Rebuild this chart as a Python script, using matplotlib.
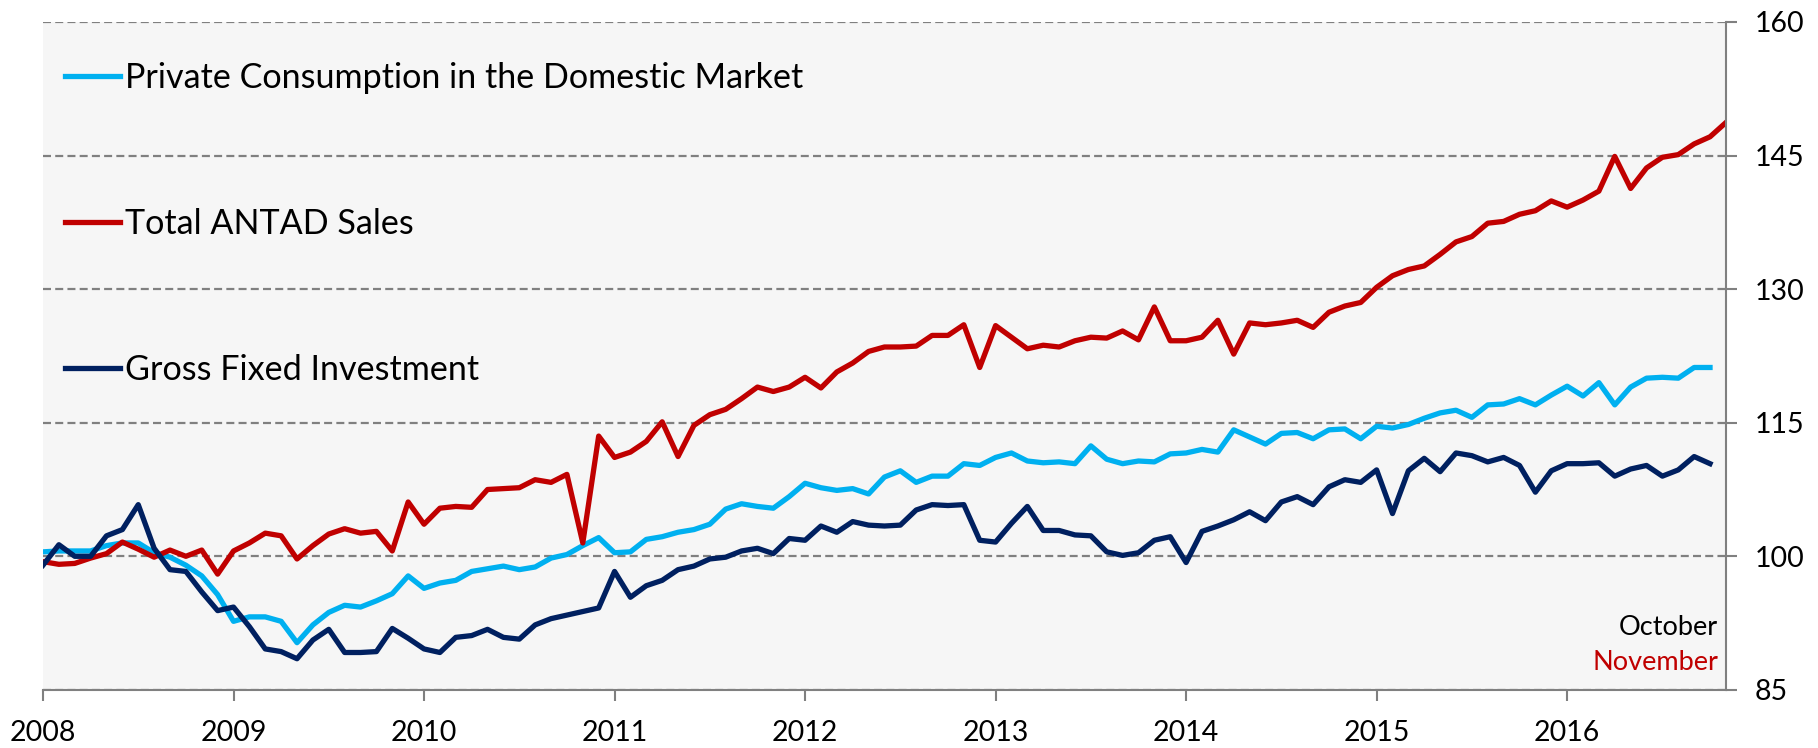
import numpy as np
import matplotlib.pyplot as plt

# monthly index values, Jan 2008 onwards
years = ["2008", "2009", "2010", "2011", "2012", "2013", "2014", "2015", "2016"]

private_consumption = [
    100.5, 100.6, 100.6, 100.6, 101.2, 101.5, 101.5, 100.4, 99.9, 99.0, 97.8, 95.7,
    92.7, 93.2, 93.2, 92.7, 90.3, 92.3, 93.7, 94.5, 94.3, 95.0, 95.8, 97.8,
    96.4, 97.0, 97.3, 98.3, 98.6, 98.9, 98.5, 98.8, 99.8, 100.2, 101.2, 102.1,
    100.4, 100.5, 101.9, 102.2, 102.7, 103.0, 103.6, 105.3, 105.9, 105.6, 105.4, 106.7,
    108.2, 107.7, 107.4, 107.6, 107.0, 108.9, 109.6, 108.3, 109.0, 109.0, 110.4, 110.2,
    111.1, 111.6, 110.7, 110.5, 110.6, 110.4, 112.4, 110.9, 110.4, 110.7, 110.6, 111.5,
    111.6, 112.0, 111.7, 114.2, 113.4, 112.6, 113.8, 113.9, 113.2, 114.2, 114.3, 113.2,
    114.6, 114.4, 114.8, 115.5, 116.1, 116.4, 115.6, 117.0, 117.1, 117.7, 117.0, 118.1,
    119.1, 118.0, 119.5, 117.0, 119.0, 120.0, 120.1, 120.0, 121.2, 121.2,
]

antad_sales = [
    99.4, 99.1, 99.2, 99.8, 100.3, 101.6, 100.8, 99.9, 100.7, 100.0, 100.7, 98.0,
    100.6, 101.5, 102.6, 102.3, 99.7, 101.2, 102.5, 103.1, 102.6, 102.8, 100.6, 106.1,
    103.6, 105.4, 105.6, 105.5, 107.5, 107.6, 107.7, 108.6, 108.3, 109.2, 101.5, 113.5,
    111.1, 111.7, 112.9, 115.1, 111.2, 114.7, 115.9, 116.5, 117.7, 119.0, 118.5, 119.0,
    120.1, 118.9, 120.7, 121.7, 123.0, 123.5, 123.5, 123.6, 124.8, 124.8, 126.0, 121.2,
    125.9, 124.6, 123.3, 123.7, 123.5, 124.2, 124.6, 124.5, 125.3, 124.3, 128.0, 124.2,
    124.2, 124.6, 126.5, 122.7, 126.2, 126.0, 126.2, 126.5, 125.7, 127.4, 128.1, 128.5,
    130.2, 131.5, 132.2, 132.6, 133.9, 135.3, 135.9, 137.4, 137.6, 138.4, 138.8, 139.9,
    139.2, 140.0, 141.0, 144.9, 141.3, 143.6, 144.8, 145.1, 146.3, 147.1, 148.7,
]

gross_investment = [
    99.0, 101.3, 100.0, 100.0, 102.3, 103.0, 105.8, 100.9, 98.5, 98.3, 96.0, 93.9,
    94.3, 92.1, 89.6, 89.3, 88.5, 90.6, 91.8, 89.2, 89.2, 89.3, 91.9, 90.8,
    89.6, 89.2, 90.9, 91.1, 91.8, 90.9, 90.7, 92.3, 93.0, 93.4, 93.8, 94.2,
    98.3, 95.4, 96.7, 97.3, 98.5, 98.9, 99.7, 99.9, 100.6, 100.9, 100.3, 102.0,
    101.8, 103.4, 102.7, 103.9, 103.5, 103.4, 103.5, 105.2, 105.8, 105.7, 105.8, 101.8,
    101.6, 103.7, 105.6, 102.9, 102.9, 102.4, 102.3, 100.5, 100.1, 100.4, 101.8, 102.2,
    99.3, 102.8, 103.4, 104.1, 105.0, 104.0, 106.1, 106.7, 105.8, 107.8, 108.6, 108.3,
    109.7, 104.8, 109.6, 111.0, 109.5, 111.6, 111.3, 110.6, 111.1, 110.2, 107.2, 109.6,
    110.4, 110.4, 110.5, 109.0, 109.8, 110.2, 109.0, 109.7, 111.2, 110.4,
]

y_ticks = [85, 100, 115, 130, 145, 160]

plt.rcParams['font.family'] = ['Lato', 'DejaVu Sans']

GRAY = '#808080'

fig = plt.figure(figsize=(18.18, 7.48), dpi=100)
ax = fig.add_axes([0.02365, 0.07767, 0.92569, 0.89305])
ax.set_facecolor('#F6F6F6')

series = [
    (private_consumption, '#00B0F0', 'Private Consumption in the Domestic Market'),
    (antad_sales, '#C00000', 'Total ANTAD Sales'),
    (gross_investment, '#002060', 'Gross Fixed Investment'),
]
for values, color, label in series:
    ax.plot(np.arange(len(values)), values, color=color, lw=3.8,
            solid_joinstyle='round', label=label)

ax.set_xlim(0, len(antad_sales) - 1)
ax.set_ylim(y_ticks[0], y_ticks[-1])

ax.set_xticks(np.arange(len(years)) * 12)
ax.set_xticklabels(years)
ax.yaxis.tick_right()
ax.set_yticks(y_ticks)

ax.tick_params(axis='y', direction='out', length=7.6, width=1.5, color=GRAY,
               labelsize=20.5, pad=13)
ax.tick_params(axis='x', direction='out', length=8, width=1.5, color=GRAY,
               labelsize=20.5, pad=13.5)

for side in ['left', 'top']:
    ax.spines[side].set_visible(False)
for side in ['right', 'bottom']:
    ax.spines[side].set_color(GRAY)
    ax.spines[side].set_linewidth(1.5)

ax.yaxis.grid(True, color=GRAY, lw=1.6, linestyle=(0, (3.6, 1.9)))
ax.xaxis.grid(False)

ax.legend(loc='upper left', bbox_to_anchor=(0.0131, 0.940), frameon=False,
          fontsize=24.6, handlelength=1.6, handletextpad=0.15, labelspacing=3.33,
          borderpad=0, borderaxespad=0)

ax.text(0.9953, 0.0822, 'October', transform=ax.transAxes, ha='right',
        va='baseline', fontsize=19.5, color='black')
ax.text(0.9953, 0.0298, 'November', transform=ax.transAxes, ha='right',
        va='baseline', fontsize=19.5, color='#C00000')

fig.savefig('out.png', dpi=100)
